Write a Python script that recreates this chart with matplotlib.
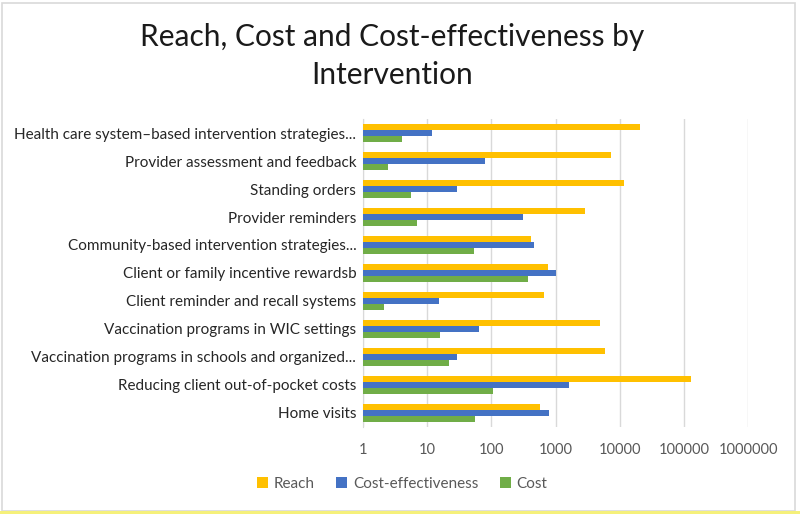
import matplotlib
matplotlib.use("Agg")
import matplotlib.pyplot as plt
import numpy as np
from matplotlib.patches import Rectangle

categories = [
    "Health care system\u2013based intervention strategies...",
    "Provider assessment and feedback",
    "Standing orders",
    "Provider reminders",
    "Community-based intervention strategies...",
    "Client or family incentive rewardsb",
    "Client reminder and recall systems",
    "Vaccination programs in WIC settings",
    "Vaccination programs in schools and organized...",
    "Reducing client out-of-pocket costs",
    "Home visits",
]
reach = [20400, 7400, 11800, 2900, 420, 760, 650, 5000, 5800, 128000, 570]
cost_effectiveness = [12, 79, 29, 308, 462, 1020, 15, 64, 29, 1640, 790]
cost = [4.0, 2.45, 5.5, 7.0, 54, 368, 2.1, 15.8, 22, 104, 55]
xticks = [1, 10, 100, 1000, 10000, 100000, 1000000]
xtick_labels = ["1", "10", "100", "1000", "10000", "100000", "1000000"]

plt.rcParams['font.family'] = ['Lato', 'DejaVu Sans']

fig = plt.figure(figsize=(8.0, 5.14), dpi=100)
ax = fig.add_axes([0.454, 0.170, 0.481, 0.598])

y = np.arange(len(categories))
h = 0.215
series = [(reach, "Reach", "#FFC000", -h),
          (cost_effectiveness, "Cost-effectiveness", "#4472C4", 0.0),
          (cost, "Cost", "#70AD47", h)]
for vals, name, col, off in series:
    v = np.array(vals, dtype=float)
    ax.barh(y + off, v - 1, left=1, height=h, color=col, label=name, zorder=3)

ax.set_xscale("log")
ax.set_xlim(1, 1e6)
ax.set_ylim(len(categories) - 0.5, -0.5)
ax.set_xticks(xticks)
ax.set_xticklabels(xtick_labels)
ax.xaxis.set_minor_locator(matplotlib.ticker.NullLocator())
ax.set_yticks(y)
ax.set_yticklabels(categories)
ax.tick_params(axis="both", length=0)
ax.tick_params(axis="x", labelsize=10.5, labelcolor="#595959", pad=12)
ax.tick_params(axis="y", labelsize=11, labelcolor="#262626", pad=5)
ax.grid(axis="x", color="#D9D9D9", linewidth=1.0, zorder=0)
for s in ["top", "right", "bottom"]:
    ax.spines[s].set_visible(False)
ax.spines["left"].set_color("#D9D9D9")

fig.text(0.49, 0.891, "Reach, Cost and Cost-effectiveness by\nIntervention",
         ha="center", va="center", fontsize=21.5, color="#1a1a1a", linespacing=1.45)

leg = fig.legend(loc="center", bbox_to_anchor=(0.503, 0.058), ncol=3, frameon=False,
                 fontsize=11, handlelength=0.7, handleheight=0.7, handletextpad=0.4,
                 columnspacing=1.4)
for t in leg.get_texts():
    t.set_color("#595959")

# chart border
fig.patches.append(Rectangle((0.003, 0.006), 0.991, 0.989, transform=fig.transFigure,
                             fill=False, edgecolor="#D9D9D9", linewidth=1.2))
fig.patches.append(Rectangle((0, 0), 1, 0.005, transform=fig.transFigure,
                             facecolor="#F5F07A", edgecolor="none"))

fig.savefig("out.png", dpi=100)
